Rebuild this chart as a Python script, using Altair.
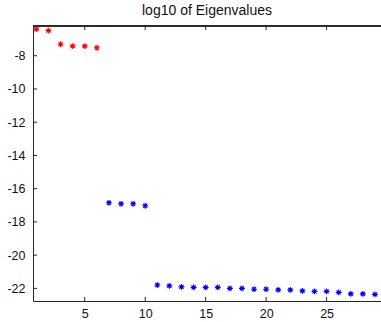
import altair as alt
import pandas as pd

# log10 eigenvalues, indexed 1..29
index = list(range(1, 30))
log_eig = [
    -6.40, -6.49, -7.31, -7.42, -7.42, -7.52,
    -16.85, -16.91, -16.91, -17.03,
    -21.80, -21.85, -21.91, -21.94, -21.94, -21.94,
    -22.00, -22.00, -22.05, -22.05, -22.09, -22.09,
    -22.15, -22.18, -22.18, -22.24, -22.33, -22.33, -22.36,
]
group = ["large"] * 6 + ["small"] * 23

x_ticks = [5, 10, 15, 20, 25]
y_ticks = [-22, -20, -18, -16, -14, -12, -10, -8]

W, H = 348, 275
X_DOMAIN = [0.72, 29.5]
Y_DOMAIN = [-22.76, -6.21]
AXIS_COLOR = "#262626"
FONT = "Liberation Sans"

df = pd.DataFrame({"i": index, "v": log_eig, "g": group})
xt = pd.DataFrame({"t": x_ticks})
yt = pd.DataFrame({"t": y_ticks})

xs = alt.Scale(domain=X_DOMAIN, nice=False, zero=False)
ys = alt.Scale(domain=Y_DOMAIN, nice=False, zero=False)

# one axis definition per direction, shared by every layer so they merge cleanly
x_axis = alt.Axis(values=x_ticks, ticks=False, grid=False, labelPadding=6,
                  labelOverlap=False, domainColor=AXIS_COLOR, labelColor="#111",
                  labelFontSize=12.5, labelFont=FONT, title=None)
y_axis = alt.Axis(values=y_ticks, ticks=False, grid=False, labelPadding=8,
                  labelOverlap=False, domainColor=AXIS_COLOR, labelColor="#111",
                  labelFontSize=12.5, labelFont=FONT, title=None,
                  labelExpr="'' + datum.value")

# asterisk marker: vertical, horizontal and two diagonal strokes
star = "M0,-1L0,1M-1,0L1,0M-0.7,-0.7L0.7,0.7M-0.7,0.7L0.7,-0.7"

points = alt.Chart(df).mark_point(
    shape=star, filled=False, strokeWidth=1.1, size=34, opacity=1
).encode(
    x=alt.X("i:Q", scale=xs, axis=x_axis),
    y=alt.Y("v:Q", scale=ys, axis=y_axis),
    color=alt.Color("g:N", scale=alt.Scale(domain=["large", "small"],
                                           range=["#ff0000", "#0000ff"]),
                    legend=None),
)

# inward ticks on bottom, top and left edges
tick_bottom = alt.Chart(xt).mark_rule(color=AXIS_COLOR).encode(
    x=alt.X("t:Q", scale=xs, axis=x_axis), y=alt.value(H), y2=alt.value(H - 4))
tick_top = alt.Chart(xt).mark_rule(color=AXIS_COLOR).encode(
    x=alt.X("t:Q", scale=xs, axis=x_axis), y=alt.value(0), y2=alt.value(4))
tick_left = alt.Chart(yt).mark_rule(color=AXIS_COLOR).encode(
    y=alt.Y("t:Q", scale=ys, axis=y_axis), x=alt.value(0), x2=alt.value(4))
top_line = alt.Chart(xt).mark_rule(color=AXIS_COLOR).encode(
    x=alt.value(0), x2=alt.value(W), y=alt.value(0))

chart = alt.layer(points, tick_bottom, tick_top, tick_left, top_line).properties(
    width=W, height=H,
    title=alt.Title("log10 of Eigenvalues", fontSize=14, font=FONT,
                    fontWeight="normal", color="#111", anchor="middle",
                    baseline="alphabetic", offset=-5),
    autosize=alt.AutoSizeParams(type="none"),
    padding={"left": 33, "top": 26, "right": 0, "bottom": 21},
).configure_view(stroke=None).configure(background="white")

chart.save("out.html", embed_options={"renderer": "svg", "actions": False})
